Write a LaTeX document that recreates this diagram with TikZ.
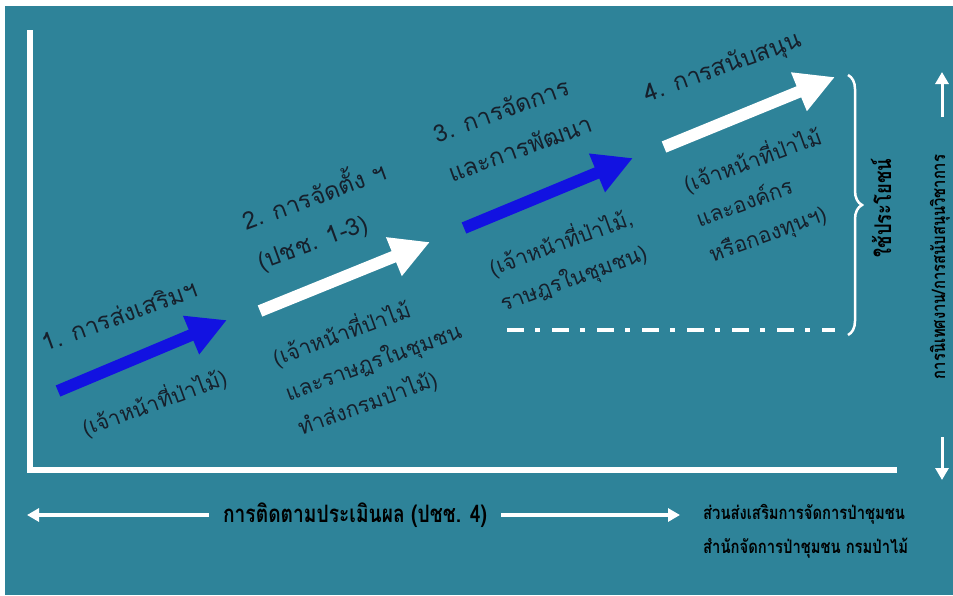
\documentclass[tikz,border=0pt]{standalone}
\usepackage{fontspec}
\newfontfamily\thaifont[Script=Thai]{Loma}
\newfontfamily\thaicond[Script=Thai,FakeStretch=0.8]{Loma}
\usetikzlibrary{arrows.meta,decorations.pathreplacing}
\definecolor{seateal}{RGB}{46,131,153}
\definecolor{stepblue}{RGB}{18,18,225}
\definecolor{ink}{RGB}{22,32,44}
\tikzset{
 bigarrow/.style={line width=12pt,-{Triangle[width=39pt,length=39pt]}},
 wflow/.style={white,line width=4pt,-{Triangle[width=13pt,length=12pt]}},
 lbl/.style={text=ink,font=\thaifont\fontsize{21.5}{37}\selectfont,rotate=20,align=left,inner sep=0pt},
 head/.style={lbl,font=\thaifont\fontsize{24}{42}\selectfont},
 footer/.style={text=black,font=\thaicond\bfseries\fontsize{18.5}{34}\selectfont,inner sep=0pt},
}
\begin{document}
\begin{tikzpicture}[x=1pt,y=-1pt]
\useasboundingbox (0,0) rectangle (953,595);
\fill[white] (0,0) rectangle (953,595);
\fill[seateal] (5,6) rectangle (953,595);
% axes
\draw[white,line width=6pt] (30,30) -- (30,470) -- (897,470);
% the four steps
\coordinate (s1) at (58,391); \coordinate (e1) at (227,320);
\coordinate (s2) at (260,311); \coordinate (e2) at (430,242);
\coordinate (s3) at (464,228); \coordinate (e3) at (633,158);
\coordinate (s4) at (664,147); \coordinate (e4) at (835,77);
\draw[bigarrow,stepblue] (s1) -- (e1);
\draw[bigarrow,white] (s2) -- (e2);
\draw[bigarrow,stepblue] (s3) -- (e3);
\draw[bigarrow,white] (s4) -- (e4);
\node[head] (t1) at (119,315) {1. การส่งเสริมฯ};
\node[lbl] (w1) at (154,402) {(เจ้าหน้าที่ป่าไม้)};
\node[head] (t2) at (321,215) {2. การจัดตั้ง ฯ\\(ปชช. 1-3)};
\node[lbl] (w2) at (373,361) {(เจ้าหน้าที่ป่าไม้\\และราษฎรในชุมชน\\ทำส่งกรมป่าไม้)};
\node[head] (t3) at (513,128) {3. การจัดการ\\และการพัฒนา};
\node[lbl,align=center] (w3) at (567,260) {(เจ้าหน้าที่ป่าไม้,\\ราษฎรในชุมชน)};
\node[head] (t4) at (723,68) {4. การสนับสนุน};
\node[lbl] (w4) at (765,195) {(เจ้าหน้าที่ป่าไม้\\และองค์กร\\หรือกองทุนฯ)};
% use of the results
\coordinate (dl) at (507,330); \coordinate (dr) at (835,330);
\draw[white,line width=4pt,dash pattern=on 17pt off 11pt on 5pt off 12pt] (dl) -- (dr);
\coordinate (bt) at (848,75); \coordinate (bb) at (848,335);
\draw[white,line width=2.5pt,decorate,decoration={brace,amplitude=14pt}] (bt) -- (bb);
\node[footer,rotate=90,font=\thaicond\bfseries\fontsize{23}{28}\selectfont] (use) at (881,208) {ใช้ประโยชน์};
% supervision
\node[footer,rotate=90,font=\thaicond\bfseries\fontsize{18.5}{24}\selectfont] (advise) at (940,267) {การนิเทศงาน/การสนับสนุนวิชาการ};
\coordinate (ua) at (942,117); \coordinate (ub) at (942,72);
\coordinate (da) at (942,437); \coordinate (db) at (942,480);
\draw[wflow,line width=3pt] (ua) -- (ub);
\draw[wflow,line width=3pt] (da) -- (db);
% evaluation
\node[footer,inner xsep=14pt,font=\thaicond\bfseries\fontsize{24}{28}\selectfont] (eval) at (355,515) {การติดตามประเมินผล (ปชช. 4)};
\coordinate (evl) at (27,515); \coordinate (evr) at (680,515);
\draw[wflow] (eval) -- (evl);
\draw[wflow] (eval) -- (evr);
\node[footer,align=left,anchor=west] (office) at (703,531) {ส่วนส่งเสริมการจัดการป่าชุมชน\\สำนักจัดการป่าชุมชน กรมป่าไม้};
\end{tikzpicture}
\end{document}
